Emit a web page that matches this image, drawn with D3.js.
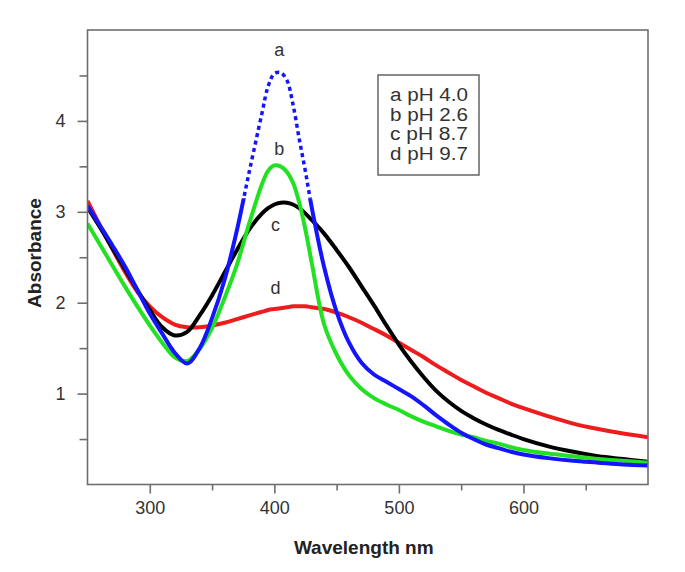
<!DOCTYPE html>
<html>
<head>
<meta charset="utf-8">
<script src="https://cdn.jsdelivr.net/npm/d3@7"></script>
<style>
  html, body { margin: 0; padding: 0; background: #fff; }
  svg { display: block; }
</style>
</head>
<body>
<svg id="chart" width="685" height="572"></svg>
<script>
// ---------- data ----------
const wavelengths = [250,260,270,280,290,300,310,320,330,340,350,360,370,380,390,395,400,405,410,415,420,425,430,440,450,460,470,480,490,500,510,520,530,540,550,560,570,580,590,600,620,640,660,680,700];

// a  pH 4.0 (blue)
const seriesA = [3.07,2.85,2.63,2.40,2.14,1.88,1.66,1.45,1.33,1.50,1.83,2.25,2.80,3.45,4.08,4.38,4.52,4.53,4.45,4.18,3.80,3.44,3.05,2.39,1.90,1.56,1.34,1.21,1.13,1.05,0.97,0.87,0.76,0.66,0.57,0.50,0.44,0.40,0.36,0.33,0.29,0.26,0.24,0.22,0.21];
// b  pH 2.6 (green)
const seriesB = [2.87,2.64,2.41,2.18,1.96,1.75,1.56,1.40,1.36,1.49,1.72,2.05,2.42,2.88,3.30,3.45,3.51,3.50,3.44,3.32,3.10,2.80,2.44,1.76,1.43,1.20,1.05,0.95,0.88,0.82,0.75,0.69,0.64,0.59,0.55,0.52,0.48,0.45,0.41,0.38,0.34,0.31,0.28,0.26,0.24];
// c  pH 8.7 (black)
const seriesC = [3.05,2.83,2.60,2.37,2.14,1.92,1.73,1.64,1.68,1.86,2.08,2.33,2.58,2.81,2.98,3.04,3.08,3.10,3.10,3.08,3.04,2.98,2.91,2.76,2.58,2.39,2.18,1.97,1.75,1.54,1.35,1.18,1.03,0.91,0.81,0.73,0.66,0.60,0.55,0.50,0.42,0.36,0.31,0.28,0.25];
// d  pH 9.7 (red)
const seriesD = [3.12,2.85,2.59,2.34,2.12,1.96,1.84,1.76,1.73,1.73,1.75,1.78,1.82,1.86,1.90,1.92,1.93,1.94,1.95,1.96,1.96,1.96,1.95,1.93,1.89,1.84,1.78,1.71,1.64,1.56,1.48,1.40,1.31,1.23,1.15,1.08,1.01,0.95,0.89,0.84,0.75,0.67,0.61,0.56,0.52];

const curveLabels = ["a","b","c","d"];
const curvePH = ["4.0","2.6","8.7","9.7"];
const labelPositions = [[404,4.71],[404,3.63],[401,2.79],[401,2.10]]; // [nm, absorbance] baseline of curve letters
const xTicksMajor = [300,400,500,600];
const xTicksMinor = [350,450,550,650];
const yTicksMajor = [1,2,3,4];
const yTicksMinor = [0.5,1.5,2.5,3.5,4.5];
const xTitle = "Wavelength nm";
const yTitle = "Absorbance";

// ---------- layout ----------
const svg = d3.select("#chart");
const pL = 87.5, pR = 648, pT = 30, pB = 484.5;
const x = d3.scaleLinear().domain([250,700]).range([pL,pR]);
const y = d3.scaleLinear().domain([0,5]).range([pB,pT]);

const frameColor = "#6e6e6e";
const textColor = "#333";
const font = "'Liberation Sans', Arial, sans-serif";

const defs = svg.append("defs");
defs.append("clipPath").attr("id","plotclip").append("rect")
  .attr("x",pL).attr("y",pT).attr("width",pR-pL).attr("height",pB-pT);
defs.append("clipPath").attr("id","lowclip").append("rect")
  .attr("x",pL).attr("y",y(3.15)).attr("width",pR-pL).attr("height",pB-y(3.15));
defs.append("clipPath").attr("id","highclip").append("rect")
  .attr("x",pL).attr("y",pT).attr("width",pR-pL).attr("height",y(3.15)-pT);

// ---------- curves ----------
const line = d3.line()
  .x(d => x(d[0]))
  .y(d => y(d[1]))
  .curve(d3.curveCatmullRom.alpha(0.5));

const series = [
  {vals: seriesD, color: "#ee1c1c"},
  {vals: seriesC, color: "#000000"},
  {vals: seriesB, color: "#22e022"},
];
const g = svg.append("g").attr("clip-path","url(#plotclip)");
series.forEach(s => {
  g.append("path")
    .datum(wavelengths.map((w,i) => [w, s.vals[i]]))
    .attr("d", line)
    .attr("fill","none")
    .attr("stroke", s.color)
    .attr("stroke-width", 4)
    .attr("stroke-linejoin","round");
});
const blueData = wavelengths.map((w,i) => [w, seriesA[i]]);
g.append("g").attr("clip-path","url(#lowclip)").append("path")
  .datum(blueData).attr("d", line)
  .attr("fill","none").attr("stroke","#1414ff").attr("stroke-width",4);
g.append("g").attr("clip-path","url(#highclip)").append("path")
  .datum(blueData).attr("d", line)
  .attr("fill","none").attr("stroke","#1414ff").attr("stroke-width",3.5)
  .attr("stroke-dasharray","4,3.5");

// ---------- frame & axes ----------
svg.append("rect")
  .attr("x",pL).attr("y",pT).attr("width",pR-pL).attr("height",pB-pT)
  .attr("fill","none").attr("stroke",frameColor).attr("stroke-width",1.6);

const xAxisMajor = d3.axisBottom(x).tickValues(xTicksMajor).tickSize(9).tickPadding(8).tickFormat(d3.format("d"));
const xAxisMinor = d3.axisBottom(x).tickValues(xTicksMinor).tickSize(6).tickFormat("");
const yAxisMajor = d3.axisLeft(y).tickValues(yTicksMajor).tickSize(10).tickPadding(12).tickFormat(d3.format("d"));
const yAxisMinor = d3.axisLeft(y).tickValues(yTicksMinor).tickSize(8).tickFormat("");

function styleAxis(sel){
  sel.select(".domain").remove();
  sel.selectAll(".tick line").attr("stroke",frameColor).attr("stroke-width",1.6);
  sel.selectAll(".tick text").attr("fill",textColor)
    .style("font-family",font).style("font-size","18px");
}
svg.append("g").attr("transform",`translate(0,${pB})`).call(xAxisMajor).call(styleAxis);
svg.append("g").attr("transform",`translate(0,${pB})`).call(xAxisMinor).call(styleAxis);
svg.append("g").attr("transform",`translate(${pL},0)`).call(yAxisMajor).call(styleAxis);
svg.append("g").attr("transform",`translate(${pL},0)`).call(yAxisMinor).call(styleAxis);

// axis titles
svg.append("text")
  .attr("x", (pL+pR)/2 - 4).attr("y", 554)
  .attr("text-anchor","middle")
  .style("font-family",font).style("font-size","19px").style("font-weight","bold")
  .attr("fill","#222").text(xTitle);
svg.append("text")
  .attr("transform",`translate(41,253) rotate(-90)`)
  .attr("text-anchor","middle")
  .style("font-family",font).style("font-size","19px").style("font-weight","bold")
  .attr("fill","#222").text(yTitle);

// curve letters
curveLabels.forEach((lab,i) => {
  svg.append("text")
    .attr("x", x(labelPositions[i][0])).attr("y", y(labelPositions[i][1]))
    .attr("text-anchor","middle")
    .style("font-family",font).style("font-size","18px")
    .attr("fill",textColor).text(lab);
});

// legend
const lg = svg.append("g");
lg.append("rect").attr("x",378).attr("y",75).attr("width",101).attr("height",100)
  .attr("fill","#fff").attr("stroke",frameColor).attr("stroke-width",1.6);
curveLabels.forEach((lab,i) => {
  lg.append("text")
    .attr("x",390).attr("y",101 + i*19.5)
    .attr("textLength",78).attr("lengthAdjust","spacingAndGlyphs")
    .style("font-family",font).style("font-size","18px")
    .attr("fill",textColor).text(`${lab} pH ${curvePH[i]}`);
});
</script>
</body>
</html>
